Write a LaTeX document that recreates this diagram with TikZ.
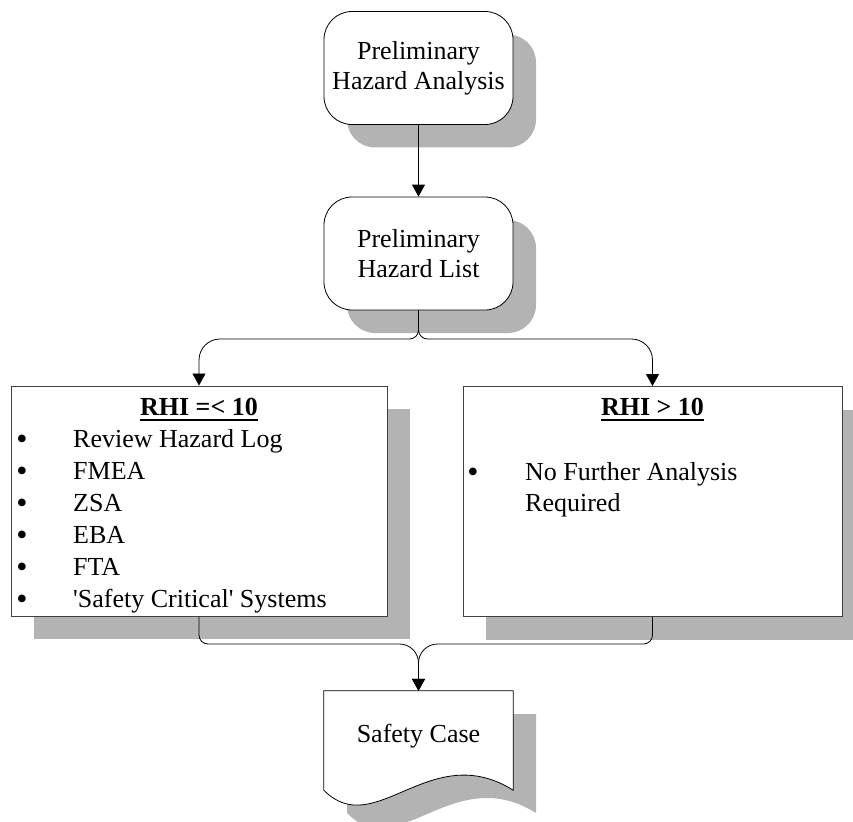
\documentclass[tikz,border=0pt]{standalone}
\usepackage{fontspec}
\setmainfont{Liberation Serif}
\usetikzlibrary{arrows.meta,shadows}
\definecolor{shadowgray}{HTML}{B3B3B3}
\begin{document}
\begin{tikzpicture}[x=1pt,y=-1pt,
  every node/.style={font=\fontsize{26}{30}\selectfont},
  shad/.style={general shadow={fill=shadowgray, shadow xshift=23pt, shadow yshift=-23pt}},
  rbox/.style={draw=black, line width=0.8pt, fill=white, rounded corners=28pt, minimum width=189pt, minimum height=113pt, align=center, inner sep=0pt, shad},
  sbox/.style={draw=black!75, line width=0.9pt, fill=white, minimum height=230pt, inner sep=0pt, shad},
  txt/.style={inner sep=0pt, anchor=base west},
  bul/.style={inner sep=0pt, anchor=base, font=\fontsize{32}{30}\selectfont},
  lbl/.style={inner sep=0pt, anchor=base},
  ttl/.style={inner sep=0pt, anchor=base, font=\fontsize{26}{30}\selectfont\bfseries},
  conn/.style={line width=0.8pt},
  arr/.style={conn, -{Triangle[length=12pt,width=13pt]}}
]
\useasboundingbox (0,0) rectangle (853,821);

% boxes
\node[rbox] (pha) at (418.5,68) {Preliminary\\Hazard Analysis};
\node[rbox, minimum height=113pt] (phl) at (418.5,253.5) {Preliminary\\Hazard List};
\node[sbox, minimum width=376pt] (lb) at (199,501) {};
\node[sbox, minimum width=379pt] (rb) at (652.5,501.5) {};

% document shape (Safety Case)
\node[inner sep=0pt, minimum width=189pt, minimum height=99pt] (sc) at (418.5,740.5) {};
\fill[shadowgray, shift={(23,23)}] (324,691) -- (513,691) -- (513,790)
  .. controls (430,738) and (375,842) .. (324,790) -- cycle;
\draw[line width=0.8pt, fill=white] (sc.north west) -- (sc.north east) -- (sc.south east)
  .. controls (430,738) and (375,842) .. (sc.south west) -- cycle;
\node[lbl] (sctext) at (418.5,742) {Safety Case};

% left box text
\node[ttl] (t1) at (199,415) {RHI =< 10};
\draw[line width=2pt] ([yshift=-5pt]t1.base west) -- ([yshift=-5pt]t1.base east);
\foreach \t [count=\i] in {Review Hazard Log, FMEA, ZSA, EBA, FTA, \textquotesingle Safety Critical\textquotesingle{} Systems}{
  \node[bul] (lbul\i) at (22,417+32*\i) {•};
  \node[txt] (litem\i) at (73,415+32*\i) {\t};
}

% right box text
\node[ttl] (t2) at (652.5,415) {RHI > 10};
\draw[line width=2pt] ([yshift=-5pt]t2.base west) -- ([yshift=-5pt]t2.base east);
\node[bul] (rbul) at (473,482) {•};
\node[txt] (ritem1) at (525,480) {No Further Analysis};
\node[txt] (ritem2) at (525,511) {Required};

% connectors
\coordinate (split) at (418.5,339);
\coordinate (merge) at (418.5,644);
\draw[arr] (pha.south) -- (phl.north);
\draw[arr] (phl.south) [rounded corners=9pt] -- (split) [rounded corners=21pt] -- (lb.north |- split) -- (lb.north);
\draw[arr] (phl.south) [rounded corners=9pt] -- (split) [rounded corners=21pt] -- (rb.north |- split) -- (rb.north);
\draw[arr] (lb.south) [rounded corners=9pt] -- (lb.south |- merge) [rounded corners=19pt] -- (merge) -- (sc.north);
\draw[arr] (rb.south) [rounded corners=9pt] -- (rb.south |- merge) [rounded corners=19pt] -- (merge) -- (sc.north);
\end{tikzpicture}
\end{document}
